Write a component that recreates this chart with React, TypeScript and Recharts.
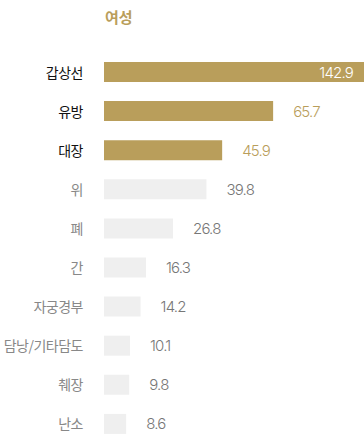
import { BarChart, Bar, XAxis, YAxis, Cell, LabelList } from 'recharts';

const categories = ['갑상선', '유방', '대장', '위', '폐', '간', '자궁경부', '담낭/기타담도', '췌장', '난소'];
const values = [142.9, 65.7, 45.9, 39.8, 26.8, 16.3, 14.2, 10.1, 9.8, 8.6];
const highlightCount = 3;

const GOLD = '#b99e5b';
const GRAY_BAR = '#efefef';
const FONT = '"Noto Sans CJK KR", "Noto Sans", sans-serif';
const NUM_FONT = 'Inter, "Noto Sans", sans-serif';

const CHART_W = 364;
const CHART_H = 443;
const MARGIN = { top: 52, right: 0, bottom: 0, left: 0 };
const X_MAX = 101;

const data = categories.map((name, i) => ({ name, value: values[i], idx: i }));

function CategoryTick(props: any) {
  const { x, y, payload } = props;
  const strong = payload.index < highlightCount;
  return (
    <text
      x={x}
      y={y}
      textAnchor="end"
      dominantBaseline="central"
      fontFamily={FONT}
      fontSize={14}
      fontWeight={400}
      fill={strong ? '#111' : '#888'}
      letterSpacing={-0.5}
    >
      {payload.value}
    </text>
  );
}

function ValueLabel(props: any) {
  const { x, y, width, height, value, index } = props;
  const cy = y + height / 2;
  const plotRight = CHART_W - MARGIN.right;
  if (x + width > plotRight) {
    return (
      <text x={plotRight - 11} y={cy} textAnchor="end" dominantBaseline="central"
        fontFamily={NUM_FONT} fontSize={15} fontWeight={300} fill="#fff" letterSpacing={-0.8}>
        {value}
      </text>
    );
  }
  return (
    <text x={x + width + 20} y={cy} textAnchor="start" dominantBaseline="central"
      fontFamily={NUM_FONT} fontSize={15} fontWeight={300} fill={index < highlightCount ? GOLD : '#777'} letterSpacing={-0.8}>
      {value}
    </text>
  );
}

export default function App() {
  return (
    <div style={{ position: 'absolute', left: 0, top: 0, width: 364, height: 437, overflow: 'hidden', background: '#fff' }}>
      <div
        style={{
          position: 'absolute',
          left: 105,
          top: 6,
          fontFamily: FONT,
          fontSize: 15,
          fontWeight: 700,
          color: GOLD,
          lineHeight: '22px',
        }}
      >
        여성
      </div>
      <BarChart width={CHART_W} height={CHART_H} data={data} layout="vertical" margin={MARGIN} barCategoryGap={19}>
        <XAxis type="number" hide domain={[0, X_MAX]} allowDataOverflow />
        <YAxis
          type="category"
          dataKey="name"
          width={104}
          axisLine={false}
          tickLine={false}
          tickSize={0}
          tickMargin={21}
          interval={0}
          tick={<CategoryTick />}
        />
        <Bar dataKey="value" barSize={20} isAnimationActive={false}>
          {data.map((d) => (
            <Cell key={d.name} fill={d.idx < highlightCount ? GOLD : GRAY_BAR} />
          ))}
          <LabelList dataKey="value" content={<ValueLabel />} />
        </Bar>
      </BarChart>
    </div>
  );
}
